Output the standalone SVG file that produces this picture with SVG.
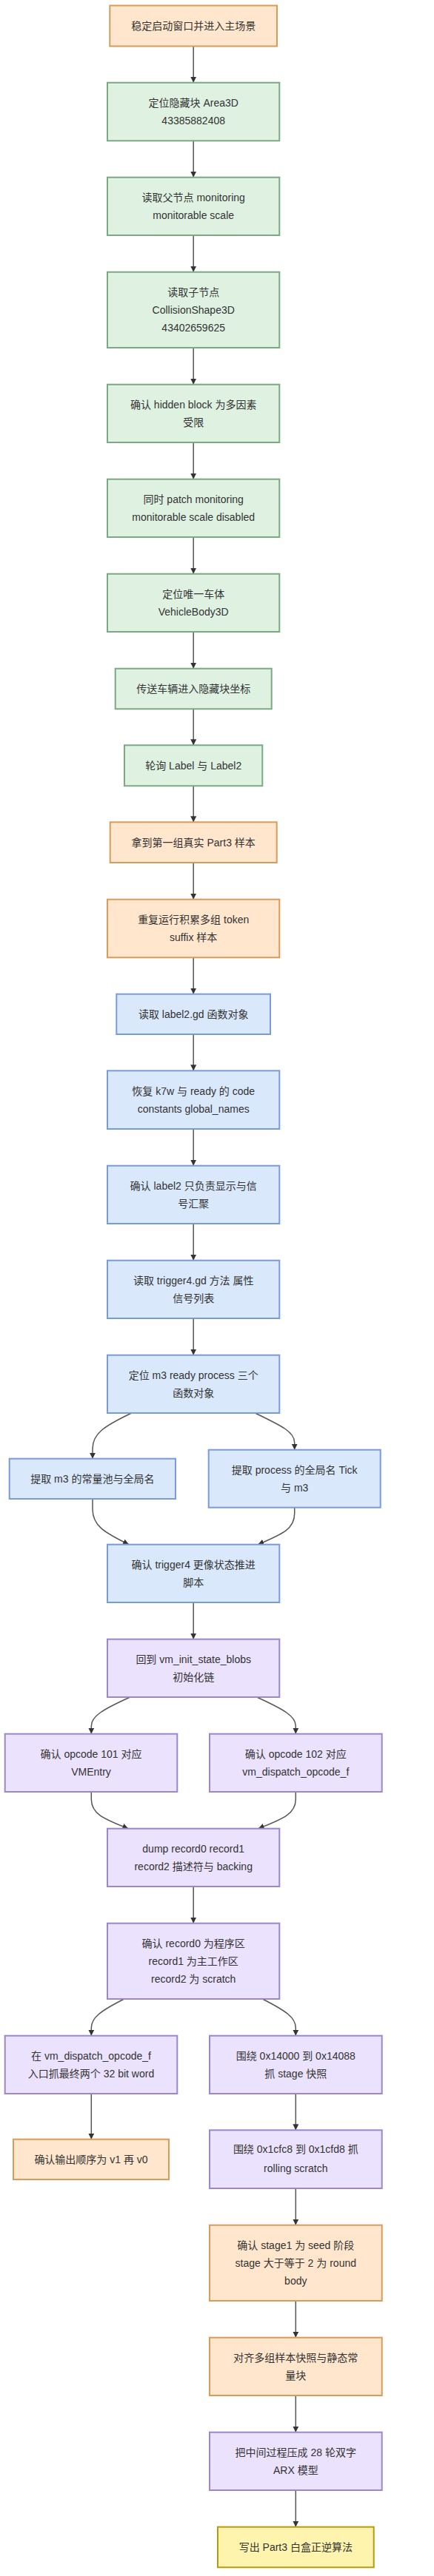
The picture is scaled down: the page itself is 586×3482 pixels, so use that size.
<svg xmlns="http://www.w3.org/2000/svg" width="586" height="3482" viewBox="0 0 586 3482">
<style>
.n rect{stroke-width:2}
.o rect{fill:#ffe6cc;stroke:#d79b5b}
.g rect{fill:#dff2e2;stroke:#7aa984}
.b rect{fill:#dae8fc;stroke:#7a9bd8}
.p rect{fill:#ebe2fd;stroke:#9c88c9}
.y rect{fill:#fff4ae;stroke:#b8990c}
text{font-family:"Liberation Sans","Noto Sans CJK SC",sans-serif;font-size:14px;fill:#333;text-anchor:middle;dominant-baseline:central}
.e path{fill:none;stroke:#555;stroke-width:1.5}
</style>
<defs>
<marker id="ah" viewBox="0 0 10 10" refX="10" refY="5" markerWidth="8" markerHeight="8" markerUnits="userSpaceOnUse" orient="auto">
<path d="M0,0 L10,5 L0,10 z" fill="#333"/>
</marker>
</defs>
<g class="e" id="connectors" marker-end="url(#ah)">
<path d="M261.2,62.5 V111.7" marker-end="url(#ah)"/>
<path d="M261.2,190.3 V239.7" marker-end="url(#ah)"/>
<path d="M261.2,318 V367.7" marker-end="url(#ah)"/>
<path d="M261.2,470 V519.7" marker-end="url(#ah)"/>
<path d="M261.2,598 V647.7" marker-end="url(#ah)"/>
<path d="M261.2,726 V775.7" marker-end="url(#ah)"/>
<path d="M261.2,854 V903.7" marker-end="url(#ah)"/>
<path d="M261.2,958.3 V1007.3" marker-end="url(#ah)"/>
<path d="M261.2,1062.3 V1111.3" marker-end="url(#ah)"/>
<path d="M261.2,1166 V1215.7" marker-end="url(#ah)"/>
<path d="M261.2,1294.3 V1343.7" marker-end="url(#ah)"/>
<path d="M261.2,1398 V1447.3" marker-end="url(#ah)"/>
<path d="M261.2,1526 V1575.7" marker-end="url(#ah)"/>
<path d="M261.2,1654 V1703.7" marker-end="url(#ah)"/>
<path d="M261.2,1782 V1831.7" marker-end="url(#ah)"/>
<path d="M177.7,1910 C140,1928 125,1938 125,1958 L125,1971.7" marker-end="url(#ah)"/>
<path d="M344.3,1910 C382,1928 397.7,1936 397.7,1950 L397.7,1959.7" marker-end="url(#ah)"/>
<path d="M125,2026 L125,2040 C125,2062 140,2071 174,2087.7" marker-end="url(#ah)"/>
<path d="M397.7,2037.7 L397.7,2046 C397.7,2066 383,2073 348.3,2087.7" marker-end="url(#ah)"/>
<path d="M261.2,2166 V2215.7" marker-end="url(#ah)"/>
<path d="M175.7,2294 C138,2311 123.3,2320 123.3,2333 L123.3,2343.7" marker-end="url(#ah)"/>
<path d="M346.7,2294 C384,2311 399.3,2320 399.3,2333 L399.3,2343.7" marker-end="url(#ah)"/>
<path d="M123.3,2422 L123.3,2432 C123.3,2451 138,2458 173.3,2471.7" marker-end="url(#ah)"/>
<path d="M399.3,2422 L399.3,2432 C399.3,2451 384,2458 348.7,2471.7" marker-end="url(#ah)"/>
<path d="M261.2,2550 V2599.7" marker-end="url(#ah)"/>
<path d="M167.7,2702 C134,2719 123.3,2728 123.3,2741 L123.3,2751.7" marker-end="url(#ah)"/>
<path d="M354.3,2702 C388,2719 399.3,2728 399.3,2741 L399.3,2751.7" marker-end="url(#ah)"/>
<path d="M123.3,2830 V2891.7" marker-end="url(#ah)"/>
<path d="M399.3,2830 V2879.3" marker-end="url(#ah)"/>
<path d="M399.3,2958 V3007.7" marker-end="url(#ah)"/>
<path d="M399.3,3110 V3159.7" marker-end="url(#ah)"/>
<path d="M399.3,3238 V3287.7" marker-end="url(#ah)"/>
<path d="M399.3,3366 V3415.7" marker-end="url(#ah)"/>
</g>
<g id="n1" class="n o"><rect x="148.3" y="7.5" width="225.7" height="55"/><text x="261.2" y="35">稳定启动窗口并进入主场景</text></g>
<g id="n2" class="n g"><rect x="145" y="111.7" width="232.3" height="78.6"/><text x="261.2" y="139">定位隐藏块 Area3D</text><text x="261.2" y="163">43385882408</text></g>
<g id="n3" class="n g"><rect x="145" y="239.7" width="232.3" height="78.3"/><text x="261.2" y="267">读取父节点 monitoring</text><text x="261.2" y="291">monitorable scale</text></g>
<g id="n4" class="n g"><rect x="145" y="367.7" width="232.3" height="102.3"/><text x="261.2" y="395">读取子节点</text><text x="261.2" y="419">CollisionShape3D</text><text x="261.2" y="443">43402659625</text></g>
<g id="n5" class="n g"><rect x="145" y="519.7" width="232.3" height="78.3"/><text x="261.2" y="547">确认 hidden block 为多因素</text><text x="261.2" y="571">受限</text></g>
<g id="n6" class="n g"><rect x="145" y="647.7" width="232.3" height="78.3"/><text x="261.2" y="675">同时 patch monitoring</text><text x="261.2" y="699">monitorable scale disabled</text></g>
<g id="n7" class="n g"><rect x="145" y="775.7" width="232.3" height="78.3"/><text x="261.2" y="803">定位唯一车体</text><text x="261.2" y="827">VehicleBody3D</text></g>
<g id="n8" class="n g"><rect x="155.7" y="903.7" width="211" height="54.6"/><text x="261.2" y="931">传送车辆进入隐藏块坐标</text></g>
<g id="n9" class="n g"><rect x="168" y="1007.3" width="186.3" height="55"/><text x="261.2" y="1034.5">轮询 Label 与 Label2</text></g>
<g id="n10" class="n o"><rect x="148.7" y="1111.3" width="225" height="54.7"/><text x="261.2" y="1139">拿到第一组真实 Part3 样本</text></g>
<g id="n11" class="n o"><rect x="145" y="1215.7" width="232.3" height="78.6"/><text x="261.2" y="1243">重复运行积累多组 token</text><text x="261.2" y="1267">suffix 样本</text></g>
<g id="n12" class="n b"><rect x="157.3" y="1343.7" width="207.7" height="54.3"/><text x="261.2" y="1371">读取 label2.gd 函数对象</text></g>
<g id="n13" class="n b"><rect x="145" y="1447.3" width="232.3" height="78.7"/><text x="261.2" y="1475">恢复 k7w 与 ready 的 code</text><text x="261.2" y="1499">constants global_names</text></g>
<g id="n14" class="n b"><rect x="145" y="1575.7" width="232.3" height="78.3"/><text x="261.2" y="1602.5">确认 label2 只负责显示与信</text><text x="261.2" y="1627">号汇聚</text></g>
<g id="n15" class="n b"><rect x="145" y="1703.7" width="232.3" height="78.3"/><text x="261.2" y="1731">读取 trigger4.gd 方法 属性</text><text x="261.2" y="1755">信号列表</text></g>
<g id="n16" class="n b"><rect x="145" y="1831.7" width="232.3" height="78.3"/><text x="261.2" y="1859">定位 m3 ready process 三个</text><text x="261.2" y="1883">函数对象</text></g>
<g id="n17" class="n b"><rect x="12.7" y="1971.7" width="224.3" height="54.3"/><text x="124.8" y="1999">提取 m3 的常量池与全局名</text></g>
<g id="n18" class="n b"><rect x="281.7" y="1959.7" width="232" height="78"/><text x="397.7" y="1987">提取 process 的全局名 Tick</text><text x="397.7" y="2011">与 m3</text></g>
<g id="n19" class="n b"><rect x="145" y="2087.7" width="232.3" height="78.3"/><text x="261.2" y="2115">确认 trigger4 更像状态推进</text><text x="261.2" y="2139">脚本</text></g>
<g id="n20" class="n p"><rect x="145" y="2215.7" width="232.3" height="78.3"/><text x="261.2" y="2243">回到 vm_init_state_blobs</text><text x="261.2" y="2266.5">初始化链</text></g>
<g id="n21" class="n p"><rect x="6.7" y="2343.7" width="232.6" height="78.3"/><text x="123" y="2371">确认 opcode 101 对应</text><text x="123" y="2395">VMEntry</text></g>
<g id="n22" class="n p"><rect x="283" y="2343.7" width="232.7" height="78.3"/><text x="399.3" y="2371">确认 opcode 102 对应</text><text x="399.3" y="2395">vm_dispatch_opcode_f</text></g>
<g id="n23" class="n p"><rect x="145" y="2471.7" width="232.3" height="78.3"/><text x="261.2" y="2499">dump record0 record1</text><text x="261.2" y="2523">record2 描述符与 backing</text></g>
<g id="n24" class="n p"><rect x="145" y="2599.7" width="232.3" height="102.3"/><text x="261.2" y="2627">确认 record0 为程序区</text><text x="261.2" y="2651">record1 为主工作区</text><text x="261.2" y="2675">record2 为 scratch</text></g>
<g id="n25" class="n p"><rect x="6.7" y="2751.7" width="232.6" height="78.3"/><text x="123" y="2779">在 vm_dispatch_opcode_f</text><text x="123" y="2803">入口抓最终两个 32 bit word</text></g>
<g id="n26" class="n p"><rect x="283" y="2751.7" width="232.7" height="78.3"/><text x="399.3" y="2779">围绕 0x14000 到 0x14088</text><text x="399.3" y="2803">抓 stage 快照</text></g>
<g id="n27" class="n o"><rect x="18" y="2891.7" width="210" height="54.3"/><text x="123" y="2919">确认输出顺序为 v1 再 v0</text></g>
<g id="n28" class="n p"><rect x="283" y="2879.3" width="232.7" height="78.7"/><text x="399.3" y="2905">围绕 0x1cfc8 到 0x1cfd8 抓</text><text x="399.3" y="2931">rolling scratch</text></g>
<g id="n29" class="n o"><rect x="283" y="3007.7" width="232.7" height="102.3"/><text x="399.3" y="3035">确认 stage1 为 seed 阶段</text><text x="399.3" y="3059">stage 大于等于 2 为 round</text><text x="399.3" y="3083">body</text></g>
<g id="n30" class="n o"><rect x="283" y="3159.7" width="232.7" height="78.3"/><text x="399.3" y="3187">对齐多组样本快照与静态常</text><text x="399.3" y="3211">量块</text></g>
<g id="n31" class="n p"><rect x="283" y="3287.7" width="232.7" height="78.3"/><text x="399.3" y="3315">把中间过程压成 28 轮双字</text><text x="399.3" y="3339">ARX 模型</text></g>
<g id="n32" class="n y"><rect x="294" y="3415.7" width="210.7" height="54.6"/><text x="399.3" y="3443">写出 Part3 白盒正逆算法</text></g>
</svg>
